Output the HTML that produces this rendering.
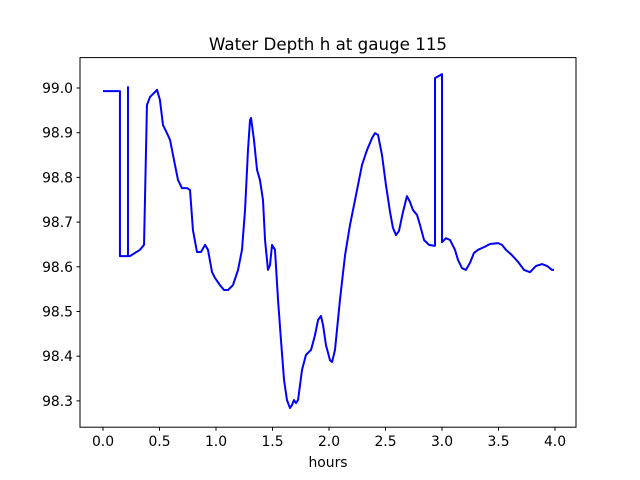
<!DOCTYPE html>
<html><head><meta charset="utf-8"><style>
html,body{margin:0;padding:0;background:#fff;}
svg{display:block;font-family:"DejaVu Sans","Liberation Sans",sans-serif;}
</style></head><body>
<svg id="chart" width="640" height="480">
<rect width="640" height="480" fill="#fff"/>
<text x="328" y="50" text-anchor="middle" font-size="16.7">Water Depth h at gauge 115</text>
<g id="plot"></g>
<rect x="80" y="57.6" width="496" height="369.6" fill="none" stroke="#000" stroke-width="1"/>
<text x="328" y="467" text-anchor="middle" font-size="13.9">hours</text>
</svg>
<script>
const hours=[0,0.150,0.150,0.221,0.221,0.221,0.239,0.327,0.363,0.389,0.416,0.460,0.478,0.504,0.531,0.566,0.593,0.637,0.664,0.699,0.743,0.770,0.796,0.832,0.867,0.903,0.929,0.965,0.991,1.035,1.071,1.106,1.150,1.195,1.230,1.257,1.283,1.301,1.310,1.336,1.363,1.389,1.416,1.434,1.460,1.478,1.496,1.522,1.549,1.575,1.602,1.628,1.655,1.673,1.690,1.708,1.726,1.761,1.796,1.841,1.876,1.903,1.929,1.947,1.973,2.009,2.027,2.053,2.097,2.142,2.186,2.230,2.292,2.336,2.381,2.407,2.434,2.469,2.504,2.540,2.566,2.593,2.619,2.655,2.690,2.717,2.743,2.779,2.805,2.841,2.885,2.929,2.938,2.938,3.000,3.000,3.035,3.071,3.115,3.142,3.177,3.212,3.248,3.283,3.319,3.372,3.425,3.496,3.531,3.566,3.619,3.673,3.726,3.779,3.832,3.885,3.929,3.973,3.991];
const depth=[98.993,98.993,98.624,98.624,99.002,98.624,98.624,98.638,98.649,98.962,98.980,98.991,98.996,98.973,98.917,98.899,98.884,98.828,98.794,98.776,98.776,98.772,98.682,98.633,98.633,98.649,98.638,98.588,98.575,98.559,98.548,98.548,98.559,98.593,98.638,98.727,98.861,98.928,98.933,98.884,98.817,98.794,98.749,98.660,98.593,98.604,98.649,98.638,98.526,98.436,98.347,98.302,98.284,98.291,98.302,98.295,98.302,98.369,98.403,98.414,98.447,98.481,98.490,98.470,98.425,98.391,98.387,98.414,98.526,98.626,98.694,98.749,98.828,98.861,98.888,98.899,98.895,98.850,98.783,98.723,98.687,98.671,98.680,98.723,98.758,98.745,98.727,98.716,98.694,98.660,98.649,98.647,98.647,99.022,99.031,98.655,98.664,98.660,98.638,98.615,98.597,98.593,98.609,98.631,98.638,98.644,98.651,98.653,98.649,98.638,98.626,98.611,98.593,98.588,98.602,98.606,98.602,98.593,98.593];
const xTicks=[0,0.5,1,1.5,2,2.5,3,3.5,4];
const xTickLabels=["0.0","0.5","1.0","1.5","2.0","2.5","3.0","3.5","4.0"];
const yTicks=[98.3,98.4,98.5,98.6,98.7,98.8,98.9,99.0];
const yTickLabels=["98.3","98.4","98.5","98.6","98.7","98.8","98.9","99.0"];
const NS="http://www.w3.org/2000/svg";
const X=v=>103+v*113;
const Y=v=>88+(99-v)*447;
const g=document.getElementById('plot');
const svg=document.getElementById('chart');
xTicks.forEach((t,i)=>{
  const l=document.createElementNS(NS,'line');
  l.setAttribute('x1',X(t));l.setAttribute('x2',X(t));l.setAttribute('y1',427.2);l.setAttribute('y2',430.7);
  l.setAttribute('stroke','#000');
  
  
  svg.appendChild(l);
  const tx=document.createElementNS(NS,'text');
  tx.setAttribute('x',X(t));tx.setAttribute('y',446);tx.setAttribute('text-anchor','middle');tx.setAttribute('font-size','13.9');
  tx.textContent=xTickLabels[i];
  
  
  svg.appendChild(tx);
});
yTicks.forEach((t,i)=>{
  const l=document.createElementNS(NS,'line');
  l.setAttribute('x1',76.5);l.setAttribute('x2',80);l.setAttribute('y1',Y(t));l.setAttribute('y2',Y(t));
  l.setAttribute('stroke','#000');
  
  
  svg.appendChild(l);
  const tx=document.createElementNS(NS,'text');
  tx.setAttribute('x',73);tx.setAttribute('y',Y(t)+5);tx.setAttribute('text-anchor','end');tx.setAttribute('font-size','13.9');
  tx.textContent=yTickLabels[i];
  
  
  svg.appendChild(tx);
});
const p=document.createElementNS(NS,'polyline');
p.setAttribute('points',hours.map((h,i)=>X(h)+','+Y(depth[i])).join(' '));
p.setAttribute('fill','none');p.setAttribute('stroke','#0000ff');p.setAttribute('stroke-width','2');p.setAttribute('stroke-linejoin','round');


g.appendChild(p);
</script>
</body></html>
